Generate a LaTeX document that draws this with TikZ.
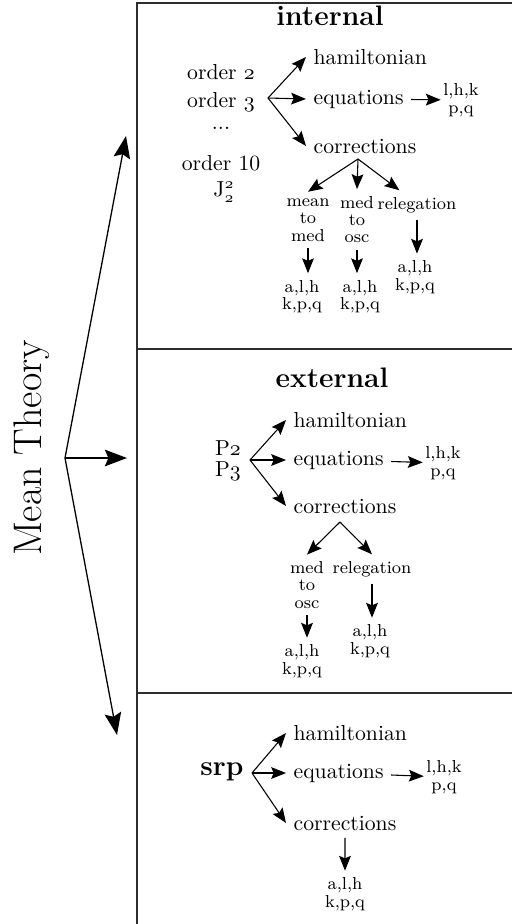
\documentclass[tikz,border=0pt]{standalone}
\usepackage{amsmath}
\usetikzlibrary{arrows.meta,positioning,calc}
\definecolor{fc}{RGB}{45,45,45}
\tikzset{txt/.style={inner sep=.3333em},lst/.style={txt,anchor=west},
 ttl/.style={font=\fontsize{13}{15}\selectfont\bfseries},
 sm/.style={font=\fontsize{8}{8}\selectfont,align=center,inner xsep=1pt,inner ysep=3pt},
 fr/.style={draw=fc,line width=.9pt},
 arr/.style={-{Stealth[length=2.4mm,width=1.9mm,inset=.4mm]},line width=.5pt},
 bigarr/.style={-{Stealth[length=3.6mm,width=2.7mm,inset=.6mm]},line width=.6pt}}
\begin{document}
\begin{tikzpicture}[x=0.0162cm,y=-0.0162cm]
\useasboundingbox (0,0) rectangle (512,924);
% frame of the three panels
\draw[fr] (540,3)--(137,3)--(137,950);
\draw[fr] (137,349)--(540,349);\draw[fr] (137,693)--(540,693);
% left fan
\node[font=\fontsize{18.4}{20}\selectfont,rotate=90] (mt) at (32,448) {Mean Theory};
\coordinate (mtf) at (65,458);
\coordinate (toI) at (126,136);\coordinate (toE) at (127,458);\coordinate (toS) at (117,735);
\draw[bigarr] (mtf)--(toI);\draw[bigarr] (mtf)--(toE);\draw[bigarr] (mtf)--(toS);
% internal
\node[ttl] (inT) at (330,16) {internal};
\node[txt] (o2) at (221,72) {order $\mathnormal{2}$};
\node[txt] (o3) at (221,102) {order $\mathnormal{3}$};
\node[txt] (od) at (221,128) {...};
\node[txt,inner sep=1pt] (o10) at (221,163) {order 10};
\node[txt,inner sep=1pt] (j22) at (224,192) {J$_{\mathnormal{2}}^{\mathnormal{2}}$};
\coordinate (fanI) at (268,98);
\node[lst] (hamI) at (306,57) {hamiltonian};
\node[lst] (eqI) at (306,99) {equations};
\node[lst] (corI) at (306,146) {corrections};
\draw[arr] (fanI)--(hamI.west);\draw[arr] (fanI)--(eqI.west);\draw[arr] (fanI)--(corI.west);
\node[sm] (resI) at (461,100) {l,h,k\\p,q};
\draw[arr] (eqI)--(resI);
\coordinate (brI) at (358,159);
\node[sm] (mtmI) at (308,220) {mean\\to\\med};
\node[sm] (mtoI) at (357,219.5) {med\\to\\osc};
\node[sm] (relI) at (417,205) {relegation};
\draw[arr] (brI)--(mtmI.north);\draw[arr] (brI)--(mtoI.north);\draw[arr] (brI)--(relI.140);
\node[sm] (amI) at (302,296.5) {a,l,h\\k,p,q};
\node[sm] (aoI) at (360,296.5) {a,l,h\\k,p,q};
\node[sm] (arI) at (415,277) {a,l,h\\k,p,q};
\draw[arr] (mtmI.south)--(mtmI.south|-amI.north);\draw[arr] (mtoI.south)--(mtoI.south|-aoI.north);
\draw[arr] (relI.south)--(relI.south|-arI.north);
% external
\node[ttl] (exT) at (332,378) {external};
\node[txt] (p2) at (228,448) {P$\mathnormal{2}$};
\node[txt] (p3) at (228,471) {P$\mathnormal{3}$};
\coordinate (fanE) at (250,460);
\node[lst] (hamE) at (286,420) {hamiltonian};
\node[lst] (eqE) at (286,460) {equations};
\node[lst] (corE) at (286,506) {corrections};
\draw[arr] (fanE)--(hamE.west);\draw[arr] (fanE)--(eqE.west);\draw[arr] (fanE)--(corE.west);
\node[sm] (resE) at (443,463) {l,h,k\\p,q};
\draw[arr] (eqE)--(resE);
\coordinate (brE) at (340,522);
\node[sm] (medE) at (307,585) {med\\to\\osc};
\node[sm] (relE) at (372,569) {relegation};
\draw[arr] (brE)--(medE.north);\draw[arr] (brE)--(relE.north);
\node[sm] (amE) at (302,661) {a,l,h\\k,p,q};
\node[sm] (arE) at (370,641) {a,l,h\\k,p,q};
\draw[arr] (medE.south)--(medE.south|-amE.north);\draw[arr] (relE.south)--(relE.south|-arE.north);
% srp
\node[ttl] (srT) at (222,772) {srp};
\coordinate (fanS) at (252,773);
\node[lst] (hamS) at (286,733) {hamiltonian};
\node[lst] (eqS) at (286,773) {equations};
\node[lst] (corS) at (286,823) {corrections};
\draw[arr] (fanS)--(hamS.west);\draw[arr] (fanS)--(eqS.west);\draw[arr] (fanS)--(corS.west);
\node[sm] (resS) at (444,777) {l,h,k\\p,q};
\draw[arr] (eqS)--(resS);
\node[sm] (aS) at (345,894) {a,l,h\\k,p,q};
\draw[arr] (corS.south)--(aS.north);
\end{tikzpicture}
\end{document}
